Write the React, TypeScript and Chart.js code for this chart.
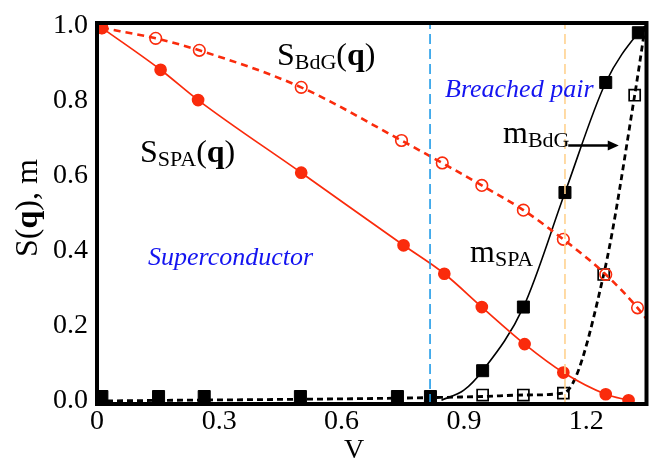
import React, { useEffect, useRef } from 'react';
import { Chart, registerables } from 'chart.js';

Chart.register(...registerables);

const FONT = '"Liberation Serif", "Times New Roman", serif';

// Axis ticks
const xTicks = [0, 0.3, 0.6, 0.9, 1.2];
const yTicks = [0, 0.2, 0.4, 0.6, 0.8, 1.0];

// S_SPA(q): filled red circles, solid line
const vSpa = [0.012, 0.156, 0.248, 0.501, 0.752, 0.852, 0.944, 1.049, 1.144, 1.248, 1.304];
const sSpa = [0.995, 0.883, 0.802, 0.608, 0.414, 0.338, 0.249, 0.150, 0.074, 0.016, 0.0];

// S_BdG(q): open red circles, dashed line
const vBdg = [0.012, 0.144, 0.251, 0.501, 0.747, 0.847, 0.944, 1.046, 1.144, 1.248, 1.326];
const sBdg = [0.995, 0.967, 0.935, 0.836, 0.694, 0.634, 0.574, 0.508, 0.430, 0.336, 0.247];
const vBdgCurve = [0.012, 0.144, 0.251, 0.501, 0.747, 0.847, 0.944, 1.046, 1.144, 1.248, 1.326, 1.36];
const sBdgCurve = [0.995, 0.967, 0.935, 0.836, 0.694, 0.634, 0.574, 0.508, 0.430, 0.336, 0.247, 0.20];

// m_SPA: filled black squares, solid fitted curve
const vMSpa = [0.012, 0.151, 0.263, 0.499, 0.737, 0.818, 0.946, 1.046, 1.148, 1.248, 1.328];
const mSpa = [0.01, 0.01, 0.01, 0.01, 0.01, 0.01, 0.079, 0.249, 0.555, 0.849, 0.982];
const vMSpaCurve = [0.845, 0.9, 0.946, 1.046, 1.148, 1.248, 1.328, 1.355];
const mSpaCurve = [0.0, 0.027, 0.079, 0.249, 0.555, 0.849, 0.982, 1.01];

// m_BdG: open black squares, dashed fitted curve
const vMBdg = [0.946, 1.046, 1.144, 1.243, 1.319];
const mBdg = [0.014, 0.014, 0.019, 0.336, 0.815];
const vMBdgCurve = [0.0, 0.946, 1.046, 1.144, 1.243, 1.319, 1.345];
const mBdgCurve = [-0.002, 0.010, 0.014, 0.019, 0.336, 0.815, 1.0];

// Phase boundaries
const vBlue = 0.817;
const vOrange = 1.148;

const RED = '#fa2b0c';

const pts = (xs: number[], ys: number[]) => xs.map((x, i) => ({ x, y: ys[i] }));

type Part = { text: string; size: number; dy?: number; bold?: boolean; italic?: boolean };

function drawRich(ctx: CanvasRenderingContext2D, x: number, y: number, parts: Part[]) {
  let cx = x;
  for (const p of parts) {
    ctx.font = `${p.italic ? 'italic ' : ''}${p.bold ? 'bold ' : ''}${p.size}px ${FONT}`;
    ctx.fillText(p.text, cx, y + (p.dy || 0));
    cx += ctx.measureText(p.text).width;
  }
}

const annotPlugin = {
  id: 'annot',
  afterDraw(chart: any) {
    const ctx: CanvasRenderingContext2D = chart.ctx;
    const { left, top, right, bottom } = chart.chartArea;
    const xs = chart.scales.x;
    const ys = chart.scales.y;
    ctx.save();
    // frame
    ctx.strokeStyle = '#000';
    ctx.lineWidth = 4;
    ctx.setLineDash([]);
    ctx.strokeRect(left, top, right - left, bottom - top);

    // arrow
    const ax1 = xs.getPixelForValue(1.156);
    const ax2 = xs.getPixelForValue(1.28);
    const ay = ys.getPixelForValue(0.681);
    ctx.lineWidth = 2.5;
    ctx.beginPath();
    ctx.moveTo(ax1, ay);
    ctx.lineTo(ax2 - 8, ay);
    ctx.stroke();
    ctx.fillStyle = '#000';
    ctx.beginPath();
    ctx.moveTo(ax2, ay);
    ctx.lineTo(ax2 - 11, ay - 5);
    ctx.lineTo(ax2 - 11, ay + 5);
    ctx.closePath();
    ctx.fill();

    ctx.textAlign = 'left';
    ctx.textBaseline = 'alphabetic';
    ctx.fillStyle = '#000';
    drawRich(ctx, 277, 65, [
      { text: 'S', size: 32 },
      { text: 'BdG', size: 22, dy: 4 },
      { text: '(', size: 32 },
      { text: 'q', size: 32, bold: true },
      { text: ')', size: 32 },
    ]);
    drawRich(ctx, 140, 162, [
      { text: 'S', size: 32 },
      { text: 'SPA', size: 22, dy: 4 },
      { text: '(', size: 32 },
      { text: 'q', size: 32, bold: true },
      { text: ')', size: 32 },
    ]);
    drawRich(ctx, 503, 143, [
      { text: 'm', size: 32 },
      { text: 'BdG', size: 22, dy: 4 },
    ]);
    drawRich(ctx, 470, 262, [
      { text: 'm', size: 32 },
      { text: 'SPA', size: 22, dy: 4 },
    ]);

    ctx.fillStyle = '#1414f0';
    drawRich(ctx, 445, 97, [{ text: 'Breached pair', size: 26, italic: true }]);
    drawRich(ctx, 148, 265, [{ text: 'Superconductor', size: 26, italic: true }]);

    // axis titles
    ctx.fillStyle = '#000';
    ctx.textAlign = 'center';
    ctx.font = `28px ${FONT}`;
    ctx.fillText('V', 354, 458);

    ctx.save();
    ctx.translate(37, 257);
    ctx.rotate(-Math.PI / 2);
    ctx.textAlign = 'left';
    drawRich(ctx, 0, 0, [
      { text: 'S(', size: 32 },
      { text: 'q', size: 32, bold: true },
      { text: '), m', size: 32 },
    ]);
    ctx.restore();

    ctx.restore();
  },
};

export default function App() {
  const ref = useRef<HTMLCanvasElement | null>(null);

  useEffect(() => {
    if (!ref.current) return;
    const chart = new Chart(ref.current, {
      type: 'scatter',
      data: {
        datasets: [
          {
            data: [{ x: vBlue, y: -0.01 }, { x: vBlue, y: 1.008 }],
            showLine: true,
            borderColor: '#1e9ae8',
            borderWidth: 1.6,
            borderDash: [10, 5],
            pointRadius: 0,
            order: -1,
          },
          {
            data: [{ x: vOrange, y: -0.01 }, { x: vOrange, y: 1.008 }],
            showLine: true,
            borderColor: '#ffd28f',
            borderWidth: 1.6,
            borderDash: [10, 5],
            pointRadius: 0,
            order: -1,
          },
          {
            data: pts(vSpa, sSpa),
            showLine: true,
            borderColor: RED,
            borderWidth: 1.7,
            backgroundColor: RED,
            pointBackgroundColor: RED,
            pointBorderColor: RED,
            pointRadius: 5.5,
            pointStyle: 'circle',
            cubicInterpolationMode: 'monotone',
            order: 1,
          },
          {
            data: pts(vBdgCurve, sBdgCurve),
            showLine: true,
            borderColor: RED,
            borderWidth: 2.6,
            borderDash: [7, 5],
            pointRadius: 0,
            cubicInterpolationMode: 'monotone',
            order: 2,
          },
          {
            data: pts(vBdg, sBdg),
            showLine: false,
            pointBackgroundColor: 'rgba(255,255,255,0)',
            pointBorderColor: RED,
            pointBorderWidth: 1.6,
            pointRadius: 5.8,
            pointStyle: 'circle',
            order: 2,
          },
          {
            data: pts(vMSpaCurve, mSpaCurve),
            showLine: true,
            borderColor: '#000',
            borderWidth: 1.6,
            pointRadius: 0,
            cubicInterpolationMode: 'monotone',
            order: 3,
          },
          {
            data: pts(vMSpa, mSpa),
            showLine: false,
            pointBackgroundColor: '#000',
            pointBorderColor: '#000',
            pointRadius: 8.5,
            pointStyle: 'rect',
            order: 3,
          },
          {
            data: pts(vMBdgCurve, mBdgCurve),
            showLine: true,
            borderColor: '#000',
            borderWidth: 2.8,
            borderDash: [6, 4],
            pointRadius: 0,
            cubicInterpolationMode: 'monotone',
            order: 4,
          },
          {
            data: pts(vMBdg, mBdg),
            showLine: false,
            pointBackgroundColor: 'rgba(255,255,255,0)',
            pointBorderColor: '#000',
            pointBorderWidth: 1.7,
            pointRadius: 7.8,
            pointStyle: 'rect',
            order: 4,
          },
        ],
      },
      options: {
        responsive: false,
        animation: false,
        devicePixelRatio: 1,
        layout: { padding: { left: 0, right: 5, top: 15, bottom: 0 } },
        plugins: { legend: { display: false }, tooltip: { enabled: false } },
        scales: {
          x: {
            type: 'linear',
            min: 0,
            max: 1.348,
            grid: { display: false, drawTicks: false },
            border: { display: false },
            afterBuildTicks: (s: any) => {
              s.ticks = xTicks.map((v) => ({ value: v }));
            },
            afterFit: (s: any) => {
              s.height = 57;
            },
            ticks: {
              padding: 4,
              color: '#000',
              maxRotation: 0,
              autoSkip: false,
              font: { family: FONT, size: 28, lineHeight: 1 },
              callback: (v: any) => (Number(v) === 0 ? '0' : Number(v).toFixed(1)),
            },
          },
          y: {
            type: 'linear',
            min: -0.01,
            max: 1.008,
            grid: { display: false, drawTicks: false },
            border: { display: false },
            afterBuildTicks: (s: any) => {
              s.ticks = yTicks.map((v) => ({ value: v }));
            },
            afterFit: (s: any) => {
              s.width = 97;
            },
            ticks: {
              padding: 9,
              color: '#000',
              autoSkip: false,
              font: { family: FONT, size: 28, lineHeight: 1 },
              callback: (v: any) => Number(v).toFixed(1),
            },
          },
        },
      },
      plugins: [annotPlugin],
    } as any);
    return () => chart.destroy();
  }, []);

  return (
    <div style={{ position: 'fixed', left: 0, top: 0, width: 656, height: 461, background: '#fff' }}>
      <canvas ref={ref} width={656} height={461} style={{ display: 'block', width: 656, height: 461 }} />
    </div>
  );
}
